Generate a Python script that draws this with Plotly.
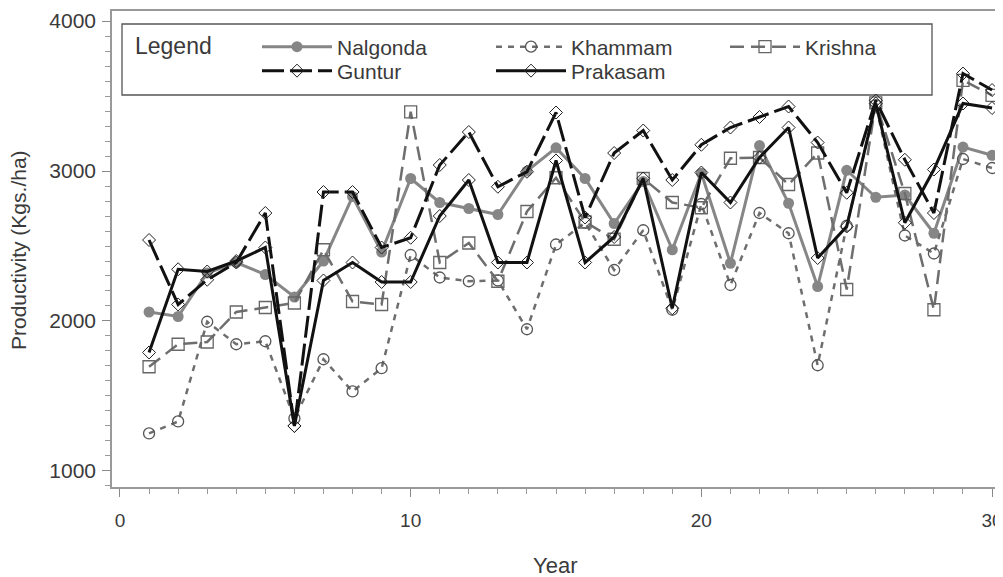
import plotly.graph_objects as go

years = list(range(1, 31))

nalgonda = [2060, 2030, 2320, 2390, 2310, 2160, 2400, 2830, 2460, 2950,
            2790, 2750, 2710, 3000, 3155, 2950, 2650, 2930, 2475, 2985,
            2385, 3170, 2785, 2230, 3005, 2825, 2840, 2585, 3160, 3105]
khammam = [1250, 1330, 1995, 1845, 1865, 1350, 1745, 1530, 1685, 2440,
           2290, 2265, 2270, 1945, 2510, 2655, 2340, 2605, 2075, 2780,
           2240, 2720, 2585, 1705, 2635, 3440, 2570, 2450, 3080, 3020]
krishna = [1695, 1845, 1860, 2060, 2090, 2120, 2475, 2130, 2110, 3395,
           2390, 2520, 2265, 2730, 2955, 2660, 2545, 2950, 2790, 2755,
           3085, 3090, 2910, 3120, 2210, 3455, 2850, 2075, 3605, 3505]
guntur = [2540, 2110, 2275, 2390, 2720, 1300, 2860, 2860, 2490, 2555,
          3040, 3260, 2895, 2995, 3390, 2690, 3120, 3270, 2940, 3175,
          3290, 3360, 3430, 3190, 2855, 3470, 3075, 2720, 3650, 3540]
prakasam = [1790, 2345, 2330, 2400, 2490, 1300, 2270, 2390, 2260, 2260,
            2700, 2940, 2390, 2390, 3070, 2390, 2560, 2950, 2085, 2990,
            2790, 3090, 3290, 2420, 2630, 3450, 2655, 3010, 3450, 3420]

x_ticks = [0, 10, 20, 30]
y_ticks = [1000, 2000, 3000, 4000]

FONT = "Liberation Sans, Arial, sans-serif"
TXT = "#3a3a3a"

# page body has an 8px margin; work in screen pixels and convert
OFF = 8
W, H = 1003 - OFF, 577 - OFF
PLOT_L, PLOT_R, PLOT_T, PLOT_B = 112, 997, 11, 487  # screen pixels
L = PLOT_L - OFF
T = PLOT_T - OFF
R = W - (PLOT_R - OFF)
B = H - (PLOT_B - OFF)
PW, PH = W - L - R, H - T - B


def px(xs):
    return (xs - PLOT_L) / PW


def py(ys):
    return (PLOT_B - ys) / PH


fig = go.Figure()

fig.add_trace(go.Scatter(
    x=years, y=nalgonda, name="Nalgonda", mode="lines+markers", legend="legend",
    line=dict(color="#868686", width=3),
    marker=dict(symbol="circle", size=11, color="#868686")))
fig.add_trace(go.Scatter(
    x=years, y=khammam, name="Khammam", mode="lines+markers", legend="legend2",
    line=dict(color="#6e6e6e", width=2.5, dash="6px,6px"),
    marker=dict(symbol="circle-open", size=11, color="#555555", line=dict(width=1.3))))
fig.add_trace(go.Scatter(
    x=years, y=krishna, name="Krishna", mode="lines+markers", legend="legend3",
    line=dict(color="#6e6e6e", width=2.5, dash="14px,7px"),
    marker=dict(symbol="square-open", size=12, color="#666666", line=dict(width=1.3))))
fig.add_trace(go.Scatter(
    x=years, y=guntur, name="Guntur", mode="lines+markers", legend="legend4",
    line=dict(color="#111111", width=3, dash="22px,6px"),
    marker=dict(symbol="diamond-open", size=10, color="#222222", line=dict(width=1))))
fig.add_trace(go.Scatter(
    x=years, y=prakasam, name="Prakasam", mode="lines+markers", legend="legend5",
    line=dict(color="#111111", width=3),
    marker=dict(symbol="diamond-open", size=10, color="#222222", line=dict(width=1))))

leg_common = dict(orientation="v", yanchor="middle", xanchor="left", bgcolor="rgba(0,0,0,0)",
                  font=dict(family=FONT, size=21, color=TXT), itemwidth=70)

COL = [257, 491, 725]
ROW = [47, 71]

fig.update_layout(
    width=W, height=H,
    margin=dict(l=L, r=R, t=T, b=B),
    paper_bgcolor="white", plot_bgcolor="white",
    font=dict(family=FONT, size=21, color=TXT),
    showlegend=True,
    legend=dict(x=px(COL[0]), y=py(ROW[0]), **leg_common),
    legend2=dict(x=px(COL[1]), y=py(ROW[0]), **leg_common),
    legend3=dict(x=px(COL[2]), y=py(ROW[0]), **leg_common),
    legend4=dict(x=px(COL[0]), y=py(ROW[1]), **leg_common),
    legend5=dict(x=px(COL[1]), y=py(ROW[1]), **leg_common),
    xaxis=dict(range=[-0.275, 30.17], tickvals=x_ticks, ticks="outside", ticklen=8,
               tickcolor="#888", showline=True, linecolor="#999", linewidth=1.5,
               mirror=True, showgrid=False, zeroline=False, ticklabelstandoff=7,
               automargin=False, ticklabeloverflow="allow",
               tickfont=dict(family=FONT, size=19, color=TXT),
               minor=dict(dtick=1, ticks="outside", ticklen=5, tickcolor="#999")),
    yaxis=dict(range=[893, 4067], tickvals=y_ticks, ticks="outside", ticklen=8,
               tickcolor="#888", showline=True, linecolor="#999", linewidth=1.5,
               mirror=True, showgrid=False, zeroline=False, ticklabelstandoff=2,
               automargin=False, ticklabeloverflow="allow",
               minor=dict(dtick=100, tick0=0, ticks="outside", ticklen=5, tickcolor="#999")),
    shapes=[dict(type="rect", xref="paper", yref="paper",
                 x0=px(122), x1=px(932), y0=py(95), y1=py(24),
                 line=dict(color="#555", width=1.3), fillcolor="rgba(0,0,0,0)", layer="below")],
    annotations=[
        dict(text="Legend", xref="paper", yref="paper", x=px(133), y=py(46),
             xanchor="left", yanchor="middle", showarrow=False,
             font=dict(family=FONT, size=23, color=TXT)),
        dict(text="Productivity (Kgs./ha)", xref="paper", yref="paper", x=px(18), y=py(250),
             xanchor="center", yanchor="middle", showarrow=False, textangle=-90,
             font=dict(family=FONT, size=21, color=TXT)),
        dict(text="Year", xref="paper", yref="paper", x=0.5, y=py(565),
             xanchor="center", yanchor="middle", showarrow=False,
             font=dict(family=FONT, size=22, color=TXT)),
    ],
)

fig.write_html("out.html")
